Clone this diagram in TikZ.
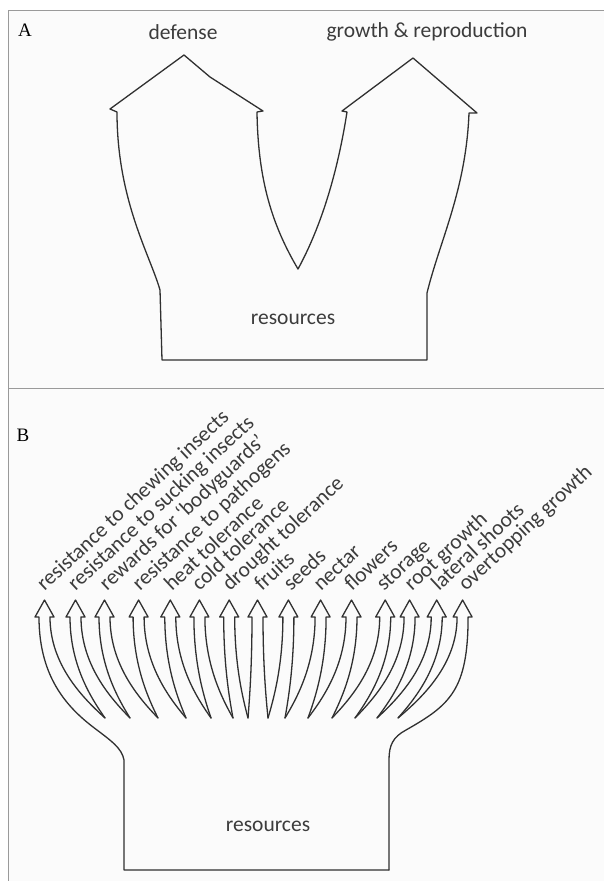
\documentclass[tikz,border=0pt]{standalone}
\usepackage{fontspec}
\setmainfont{Carlito}
\newfontfamily\panelfont{Liberation Serif}
\definecolor{inkc}{HTML}{303030}
\definecolor{txtc}{HTML}{3C3C3C}
\definecolor{framec}{HTML}{9A9A9A}
\definecolor{bgc}{HTML}{FBFBFB}
\begin{document}
\begin{tikzpicture}[x=1pt,y=-1pt,
  ink/.style={draw=inkc, line width=1.3pt, line join=round, line cap=round},
  lbl/.style={text=txtc, font=\fontsize{21.5}{24}\selectfont, inner sep=0pt},
  rlbl/.style={lbl, anchor=base west, rotate=43},
  panel/.style={font=\panelfont\fontsize{19}{22}\selectfont, text=black, inner sep=0pt},
  frm/.style={draw=framec, line width=1pt}]
\useasboundingbox (0,0) rectangle (604,881);
\fill[bgc] (8,10) rectangle (604,881);
\draw[frm] (8,881) -- (8,10) -- (604,10);
\draw[frm] (8,388) -- (604,388);

% ---------- Panel A ----------
\node[panel] (labA) at (25,30) {A};
\node[lbl] (def) at (183,32) {defense};
\node[lbl] (grow) at (427,32) {growth \& reproduction};
\node[lbl] (resA) at (293,319) {resources};
\draw[ink] (184,55) -- (210,77) -- (263,111) -- (257,112)
  .. controls (258,180) and (272,225) .. (298,269)
  .. controls (322,225) and (338,170) .. (347,112)
  -- (342,111) -- (413,58) -- (477,113) -- (469,113)
  .. controls (466,190) and (440,240) .. (427,293)
  -- (427,360) -- (162,360) -- (160,290)
  .. controls (150,255) and (117,200) .. (117,112)
  -- (110,109) -- cycle;

% ---------- Panel B ----------
\node[panel] (labB) at (23,435) {B};
\node[lbl] (resB) at (268,826) {resources};

% first arrow with the left outline
\draw[ink] (389,870) -- (124,870) -- (124,760)
  .. controls (122,748) and (110,740) .. (97,730)
  .. controls (70,710) and (39,680) .. (39,617)
  -- (35,617) -- (44.5,600) -- (54,617) -- (50,617)
  .. controls (50,665) and (83,698) .. (105,718);
% last arrow with the right outline
\draw[ink] (398,718) .. controls (421.6,698) and (457.1,665) .. (457.1,617)
  -- (453.1,617) -- (462.6,600) -- (472.1,617) -- (468.1,617)
  .. controls (468,690) and (450,705) .. (406,730)
  .. controls (393,737) and (389,745) .. (389,760) -- (389,870);
% inner arrows
\foreach \xt/\jl/\jr in {75.5/105/130, 104.5/130/158, 138.6/158/186,
  170.3/186/211, 199.4/211/233, 229.2/233/248, 257.5/248/268,
  288.4/268/285, 320.6/285/308, 351.5/308/332, 385.2/332/355,
  409.6/355/377, 436.7/377/398} {
  \pgfmathsetmacro\a{\xt-5.5}
  \pgfmathsetmacro\b{\xt+5.5}
  \pgfmathsetmacro\ca{\jl-0.4*(\jl-\a)}
  \pgfmathsetmacro\cb{\jr-0.4*(\jr-\b)}
  \draw[ink] (\jl,718) .. controls (\ca,698) and (\a,665) .. (\a,617)
    -- (\xt-9.5,617) -- (\xt,600) -- (\xt+9.5,617) -- (\b,617)
    .. controls (\b,665) and (\cb,698) .. (\jr,718);
}
% labels
\foreach \lx/\txt [count=\k] in {44.5/resistance to chewing insects,
  75.5/resistance to sucking insects, 107/rewards for  ‘bodyguards’,
  140/resistance to pathogens, 172/heat tolerance, 199.5/cold tolerance,
  230/drought tolerance, 262/fruits, 291/seeds, 321/nectar, 352/flowers,
  384/storage, 412/root growth, 439/lateral shoots, 466/overtopping growth} {
  \node[rlbl] (lb\k) at (\lx,592) {\txt};
}
\end{tikzpicture}
\end{document}
